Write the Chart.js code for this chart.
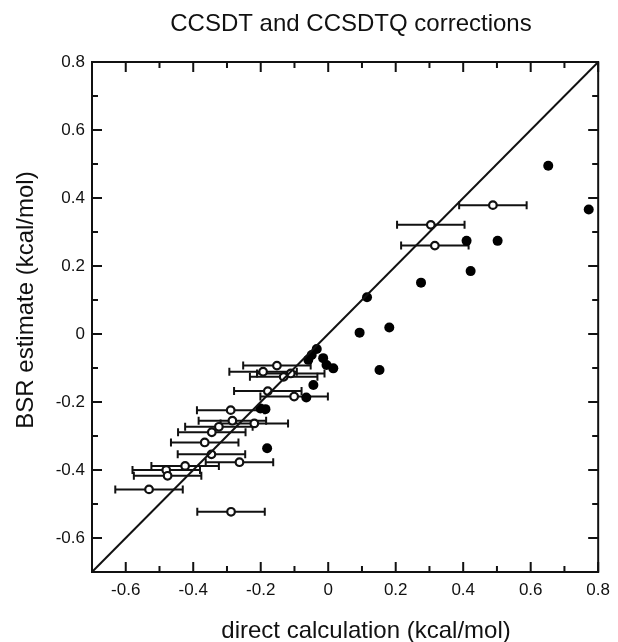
<!DOCTYPE html>
<html>
<head>
<meta charset="utf-8">
<script src="https://cdn.jsdelivr.net/npm/chart.js@4.4.1/dist/chart.umd.min.js"></script>
<style>
html, body { margin: 0; padding: 0; background: #fff; }
#grafico { display: block; }
</style>
</head>
<body>
<canvas id="grafico" width="618" height="642"></canvas>
<script>
// Datos
const tituloGrafico = 'CCSDT and CCSDTQ corrections';
const tituloX = 'direct calculation (kcal/mol)';
const tituloY = 'BSR estimate (kcal/mol)';

const rangoEje = [-0.7, 0.8];
const ticksMayores = [-0.6, -0.4, -0.2, 0, 0.2, 0.4, 0.6, 0.8];
const ticksMenores = [-0.5, -0.3, -0.1, 0.1, 0.3, 0.5, 0.7];
const etiquetasTicks = ['-0.6', '-0.4', '-0.2', '0', '0.2', '0.4', '0.6', '0.8'];

// Puntos rellenos (CCSDT)
const rellenoX = [0.652, 0.772, 0.410, 0.502, 0.422, 0.275, 0.115, 0.093, 0.181, 0.152,
    -0.034, -0.049, -0.059, -0.015, -0.005, 0.015, -0.044, -0.065, -0.201, -0.186, -0.181];
const rellenoY = [0.495, 0.366, 0.274, 0.274, 0.185, 0.151, 0.108, 0.004, 0.019, -0.106,
    -0.044, -0.062, -0.076, -0.071, -0.091, -0.101, -0.150, -0.187, -0.219, -0.221, -0.336];

// Puntos huecos con barra de error horizontal (CCSDTQ)
const huecoX = [0.488, 0.304, 0.316, -0.152, -0.193, -0.132, -0.111, -0.179, -0.101, -0.289,
    -0.284, -0.219, -0.324, -0.345, -0.366, -0.346, -0.263, -0.424, -0.480, -0.476, -0.531, -0.288];
const huecoY = [0.379, 0.321, 0.260, -0.093, -0.111, -0.126, -0.116, -0.168, -0.184, -0.224,
    -0.255, -0.263, -0.273, -0.289, -0.319, -0.354, -0.377, -0.388, -0.400, -0.417, -0.457, -0.523];
const huecoErr = [0.10, 0.10, 0.10, 0.10, 0.10, 0.10, 0.10, 0.10, 0.10, 0.10,
    0.10, 0.10, 0.10, 0.10, 0.10, 0.10, 0.10, 0.10, 0.10, 0.10, 0.10, 0.10];

// Diagonal y = x
const diagonal = [-0.7, 0.8];

const fuente = '"Liberation Sans", Arial, Helvetica, sans-serif';

// Barras de error
const barrasError = {
    id: 'barrasError',
    beforeDatasetsDraw(chart) {
        const ctx = chart.ctx;
        const x = chart.scales.x;
        const y = chart.scales.y;
        ctx.save();
        ctx.strokeStyle = '#111';
        ctx.lineWidth = 2;
        huecoX.forEach((vx, i) => {
            const py = y.getPixelForValue(huecoY[i]);
            const x1 = x.getPixelForValue(vx - huecoErr[i]);
            const x2 = x.getPixelForValue(vx + huecoErr[i]);
            ctx.beginPath();
            ctx.moveTo(x1, py);
            ctx.lineTo(x2, py);
            ctx.moveTo(x1, py - 4);
            ctx.lineTo(x1, py + 4);
            ctx.moveTo(x2, py - 4);
            ctx.lineTo(x2, py + 4);
            ctx.stroke();
        });
        ctx.restore();
    }
};

// Marco y ticks hacia dentro en los cuatro lados
const marco = {
    id: 'marco',
    afterDraw(chart) {
        const ctx = chart.ctx;
        const a = chart.chartArea;
        const x = chart.scales.x;
        const y = chart.scales.y;
        ctx.save();
        ctx.strokeStyle = '#111';
        ctx.lineWidth = 2;
        ctx.strokeRect(a.left, a.top, a.right - a.left, a.bottom - a.top);
        const dibujar = (valores, largo) => {
            ctx.beginPath();
            valores.forEach(v => {
                const px = x.getPixelForValue(v);
                ctx.moveTo(px, a.bottom);
                ctx.lineTo(px, a.bottom - largo);
                ctx.moveTo(px, a.top);
                ctx.lineTo(px, a.top + largo);
                const py = y.getPixelForValue(v);
                ctx.moveTo(a.left, py);
                ctx.lineTo(a.left + largo, py);
                ctx.moveTo(a.right, py);
                ctx.lineTo(a.right - largo, py);
            });
            ctx.stroke();
        };
        dibujar(ticksMayores, 10);
        dibujar(ticksMenores, 6);
        ctx.restore();
    }
};

// Títulos
const textos = {
    id: 'textos',
    afterDraw(chart) {
        const ctx = chart.ctx;
        ctx.save();
        ctx.fillStyle = '#111';
        ctx.font = '24px ' + fuente;
        ctx.textAlign = 'center';
        ctx.textBaseline = 'alphabetic';
        ctx.fillText(tituloGrafico, 351, 31);
        ctx.fillText(tituloX, 366, 638);
        ctx.translate(33, 300);
        ctx.rotate(-Math.PI / 2);
        ctx.fillText(tituloY, 0, 0);
        ctx.restore();
    }
};

const ctxGrafico = document.getElementById('grafico').getContext('2d');
const ejeComun = {
    type: 'linear',
    min: rangoEje[0],
    max: rangoEje[1],
    grid: { display: false, drawTicks: false, tickLength: 0 },
    border: { display: false },
    afterBuildTicks: s => { s.ticks = ticksMayores.map(v => ({ value: v })); },
    ticks: {
        color: '#111',
        font: { family: fuente, size: 17 },
        callback: (v, i) => etiquetasTicks[i]
    }
};

const grafico = new Chart(ctxGrafico, {
    type: 'scatter',
    data: {
        datasets: [
            {
                type: 'line',
                data: diagonal.map(v => ({ x: v, y: v })),
                borderColor: '#111',
                borderWidth: 2,
                pointRadius: 0,
                fill: false
            },
            {
                data: rellenoX.map((v, i) => ({ x: v, y: rellenoY[i] })),
                backgroundColor: '#000',
                borderColor: '#000',
                borderWidth: 0,
                pointRadius: 5
            },
            {
                data: huecoX.map((v, i) => ({ x: v, y: huecoY[i] })),
                backgroundColor: '#fff',
                borderColor: '#111',
                borderWidth: 2.2,
                pointRadius: 3.8
            }
        ]
    },
    options: {
        responsive: false,
        animation: false,
        devicePixelRatio: 1,
        layout: { padding: { left: 0, right: 16, top: 62, bottom: 0 } },
        plugins: {
            legend: { display: false },
            tooltip: { enabled: false }
        },
        scales: {
            x: Object.assign({}, ejeComun, {
                position: 'bottom',
                afterFit: s => { s.height = 70; },
                ticks: Object.assign({}, ejeComun.ticks, { padding: 8, maxRotation: 0, autoSkip: false })
            }),
            y: Object.assign({}, ejeComun, {
                position: 'left',
                afterFit: s => { s.width = 92; },
                ticks: Object.assign({}, ejeComun.ticks, { padding: 7, autoSkip: false })
            })
        }
    },
    plugins: [barrasError, marco, textos]
});
</script>
</body>
</html>
